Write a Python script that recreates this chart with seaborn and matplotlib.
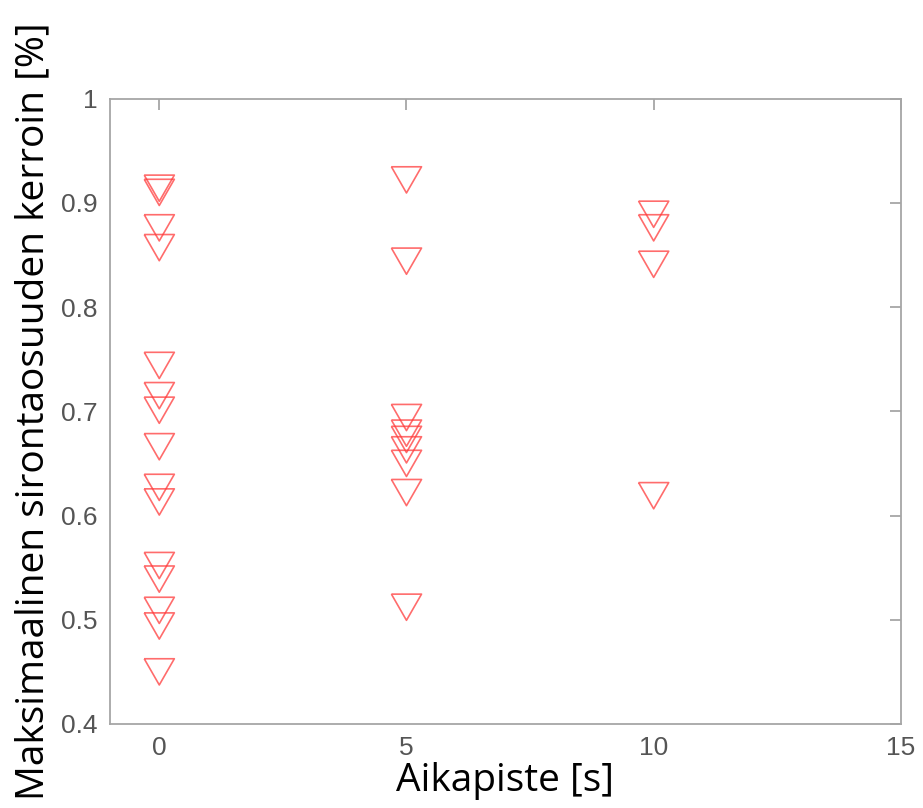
import pandas as pd
import numpy as np
import matplotlib
matplotlib.use("Agg")
import matplotlib.pyplot as plt
import seaborn as sns

# Values
t0_values = [0.914, 0.910, 0.876, 0.857, 0.744, 0.715, 0.701, 0.666,
             0.627, 0.613, 0.552, 0.539, 0.509, 0.494, 0.450]
t5_values = [0.922, 0.844, 0.694, 0.679, 0.673, 0.663, 0.650, 0.622, 0.512]
t10_values = [0.889, 0.876, 0.841, 0.619]

time_points = [0, 5, 10]
x_ticks = [0, 5, 10, 15]
y_ticks = [0.4, 0.5, 0.6, 0.7, 0.8, 0.9, 1.0]
y_tick_labels = ["0.4", "0.5", "0.6", "0.7", "0.8", "0.9", "1"]

# Long format table
df = pd.DataFrame({
    "aika": [time_points[0]] * len(t0_values)
            + [time_points[1]] * len(t5_values)
            + [time_points[2]] * len(t10_values),
    "kerroin": t0_values + t5_values + t10_values,
})

sns.set_style("white")

fig = plt.figure(figsize=(9.23, 8.08), dpi=100)
ax = fig.add_axes([0.119, 0.104, 0.857, 0.774])

# MATLAB-like downward triangle (wider than tall)
tri = [(-1, 0.87), (1, 0.87), (0, -0.87), (-1, 0.87)]

sns.scatterplot(data=df, x="aika", y="kerroin", ax=ax,
                marker=tri, s=470, facecolors="none",
                edgecolor="#ff3b3b", linewidth=1.2, alpha=0.75)

ax.set_xlim(-1, 15)
ax.set_ylim(0.4, 1.0)
ax.set_xticks(x_ticks)
ax.set_xticklabels([str(v) for v in x_ticks])
ax.set_yticks(y_ticks)
ax.set_yticklabels(y_tick_labels)

spine_col = "#a6a6a6"
for sp in ax.spines.values():
    sp.set_visible(True)
    sp.set_color(spine_col)
    sp.set_linewidth(1.3)

ax.tick_params(direction="in", length=8, width=1.3, color=spine_col,
               labelcolor="#555555", labelsize=19, top=True, right=True,
               pad=9)
for lab in ax.get_xticklabels() + ax.get_yticklabels():
    lab.set_family(["Liberation Sans", "DejaVu Sans"])

ax.set_xlabel("Aikapiste [s]", fontsize=28, family=["Open Sans", "DejaVu Sans"],
              color="black", labelpad=1)
ax.set_ylabel("Maksimaalinen sirontaosuuden kerroin [%]", fontsize=28,
              family=["Open Sans", "DejaVu Sans"], color="black", labelpad=6)

fig.savefig("out.png", dpi=100)
